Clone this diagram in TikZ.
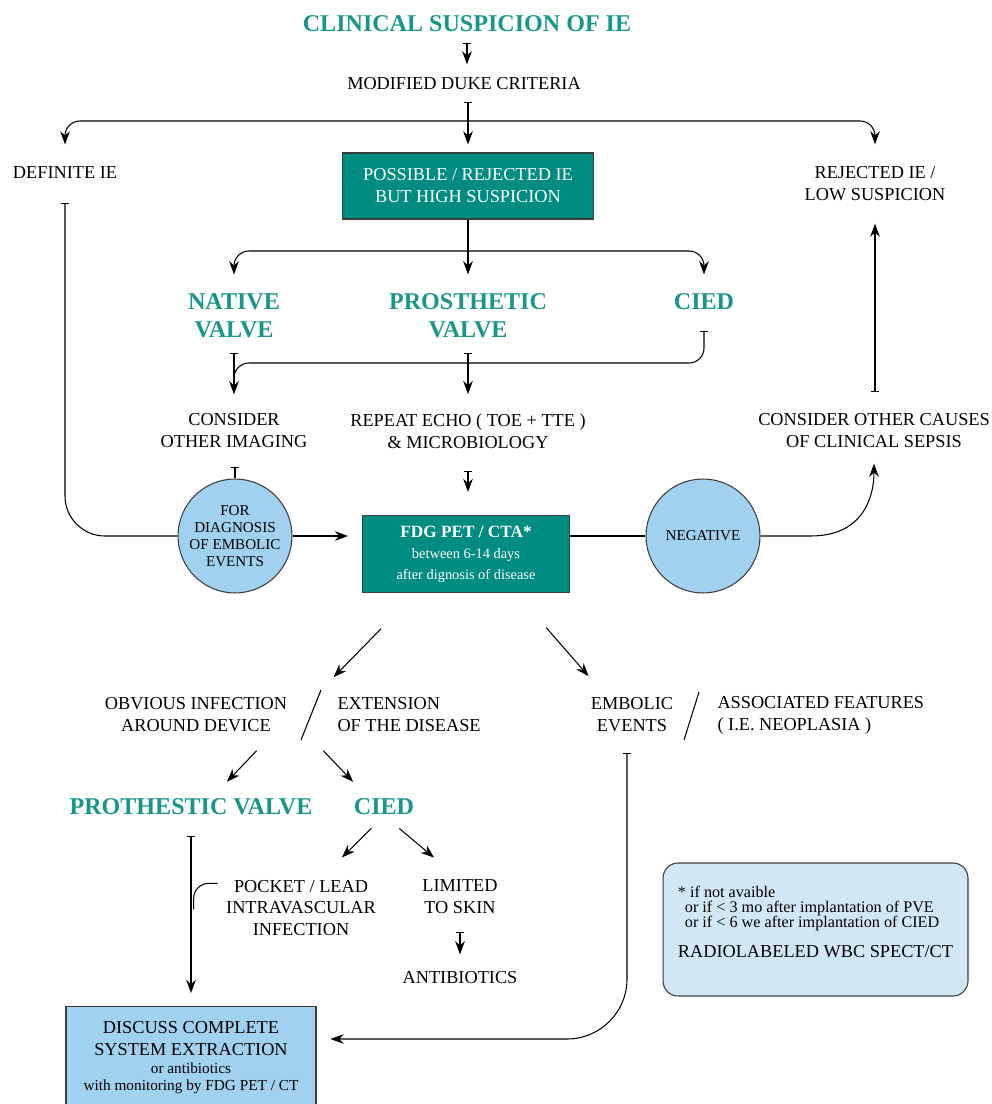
\documentclass[tikz,border=0pt]{standalone}
\usepackage{fontspec}
\setmainfont{Liberation Serif}
\usetikzlibrary{arrows.meta}
\definecolor{tealtxt}{RGB}{24,150,138}
\definecolor{boxteal}{RGB}{0,140,128}
\definecolor{skyblue}{RGB}{160,209,238}
\definecolor{paleblue}{RGB}{210,231,245}
\definecolor{edgegray}{RGB}{60,60,60}
\begin{document}
\begin{tikzpicture}[x=0.02cm, y=-0.02cm, line width=0.6pt,
    txt/.style={font=\fontsize{10.4}{12.5}\selectfont, align=center, inner sep=0pt},
    head/.style={font=\fontsize{13.7}{15.9}\selectfont\bfseries, text=tealtxt, align=center, inner sep=0pt},
    greenbox/.style={draw=edgegray, fill=boxteal, text=white, align=center, inner sep=0pt},
    bluebox/.style={draw=edgegray, fill=skyblue, align=center, font=\fontsize{10.4}{12.5}\selectfont},
    bubble/.style={circle, draw=edgegray, fill=skyblue, minimum size=2.28cm, inner sep=0pt, align=center, font=\fontsize{8.6}{9.7}\selectfont},
    notebox/.style={draw=edgegray, fill=paleblue, rounded corners=0.3cm, minimum width=6.1cm, minimum height=2.66cm, align=left, inner sep=0pt, font=\fontsize{9.2}{8.6}\selectfont},
    arr/.style={-{Stealth[length=7.5pt,width=5.5pt]}},
    tee/.style={{Bar[width=5pt]}-{Stealth[length=7.5pt,width=5.5pt]}},
    teeonly/.style={{Bar[width=5pt]}-}]
    \path[use as bounding box, fill=white] (0,0) rectangle (991,1104);
    \node[head] (title) at (467,24) {CLINICAL SUSPICION OF IE};
    \node[txt] (duke) at (464,84) {MODIFIED DUKE CRITERIA};
    \node[txt] (definite) at (65,173) {DEFINITE IE};
    \node[greenbox, minimum width=5.02cm, minimum height=1.32cm, font=\fontsize{10.4}{12.5}\selectfont] (possible) at (468,186) {POSSIBLE / REJECTED IE\\BUT HIGH SUSPICION};
    \node[txt] (rejected) at (875,184) {REJECTED IE /\\LOW SUSPICION};
    \node[head] (native) at (234,316) {NATIVE\\VALVE};
    \node[head] (prosth) at (468,316) {PROSTHETIC\\VALVE};
    \node[head] (cied) at (704,302) {CIED};
    \node[txt] (imaging) at (234,431) {CONSIDER\\OTHER IMAGING};
    \node[txt] (echo) at (468,431) {REPEAT ECHO ( TOE + TTE )\\\& MICROBIOLOGY};
    \node[txt] (causes) at (874,431) {CONSIDER OTHER CAUSES\\OF CLINICAL SEPSIS};
    \node[bubble] (embcircle) at (235,536) {FOR\\DIAGNOSIS\\OF EMBOLIC\\EVENTS};
    \node[greenbox, minimum width=4.14cm, minimum height=1.54cm, font=\fontsize{8.2}{12}\selectfont] (fdg) at (466,554) {{\fontsize{9.8}{12}\selectfont\bfseries FDG PET / CTA*}\\between 6-14 days\\after dignosis of disease};
    \node[bubble] (negative) at (703,536) {NEGATIVE};
    \node[txt] (obvious) at (196,715) {OBVIOUS INFECTION\\AROUND DEVICE};
    \node[txt, align=left, anchor=west] (extension) at (337,715) {EXTENSION\\OF THE DISEASE};
    \node[txt] (embolic) at (632,715) {EMBOLIC\\EVENTS};
    \node[txt, align=left, anchor=west] (assoc) at (717,715) {ASSOCIATED FEATURES\\( I.E. NEOPLASIA )};
    \coordinate (s1top) at (321,690);
    \coordinate (s1bot) at (301,740);
    \coordinate (s2top) at (699,692);
    \coordinate (s2bot) at (684,740);
    \node[head] (prothv) at (191,807) {PROTHESTIC VALVE};
    \node[head] (cied2) at (384,807) {CIED};
    \node[txt] (pocket) at (301,908) {POCKET / LEAD\\INTRAVASCULAR\\INFECTION};
    \node[txt] (limited) at (460,897) {LIMITED\\TO SKIN};
    \node[txt] (antibio) at (460,978) {ANTIBIOTICS};
    \node[bluebox, anchor=north, minimum width=5cm, inner xsep=0pt, inner ysep=0.3cm] (discuss) at (191,1006) {DISCUSS COMPLETE\\SYSTEM EXTRACTION\\[-2.5pt]{\fontsize{8.7}{9.5}\selectfont or antibiotics}\\[-2.5pt]{\fontsize{8.7}{9.5}\selectfont with monitoring by FDG PET / CT}\\[0.6cm]\mbox{}};
    \node[notebox] (note) at (815.5,929.5) {* if not avaible\\\hspace*{4pt}or if < 3 mo after implantation of PVE\\\hspace*{4pt}or if < 6 we after implantation of CIED\\[7.5pt]{\fontsize{10.4}{12}\selectfont RADIOLABELED WBC SPECT/CT}\\\mbox{}};
    \coordinate (split1) at (468,121);
    \coordinate (split2) at (468,251);
    \coordinate (merge) at (234,363);
    \draw[tee, shorten <=0.2cm, shorten >=0.26cm] (title.south) -- (title.south |- duke.north);
    \draw[tee, shorten <=0.22cm, shorten >=0.16cm] (possible.north |- duke.south) -- (possible.north);
    \draw[arr, rounded corners=0.3cm, shorten >=0.44cm] (split1) -| (definite.north);
    \draw[arr, rounded corners=0.3cm, shorten >=0.44cm] (split1) -| (rejected.north);
    \draw[arr, shorten >=0.38cm] (possible.south) -- (prosth.north);
    \draw[arr, rounded corners=0.3cm, shorten >=0.38cm] (split2) -| (native.north);
    \draw[arr, rounded corners=0.3cm, shorten >=0.38cm] (split2) -| (cied.north);
    \draw[tee, shorten <=0.28cm, shorten >=0.38cm] (native.south) -- (imaging.north);
    \draw[teeonly, rounded corners=0.3cm, shorten <=0.4cm] (cied.south) |- (merge) -- ++(0,22);
    \draw[tee, shorten <=0.28cm, shorten >=0.38cm] (prosth.south) -- (echo.north);
    \draw[tee, shorten <=0.42cm, shorten >=0.44cm] (rejected.south |- causes.north) -- (rejected.south);
    \draw[teeonly, shorten <=0.36cm] (embcircle.north |- imaging.south) -- (embcircle.north);
    \draw[tee, shorten <=0.44cm, shorten >=0.46cm] (echo.south) -- (echo.south |- fdg.north);
    \draw[teeonly, rounded corners=0.8cm, shorten <=0.46cm] (definite.south) |- (embcircle.west);
    \draw[arr, shorten >=0.28cm] (embcircle.east) -- (embcircle.east -| fdg.west);
    \draw (fdg.east |- negative.west) -- (negative.west);
    \draw[arr, shorten >=0.3cm] (negative.east) -- ++(50,0) .. controls +(55,0) and +(0,45) .. (causes.south);
    \draw[arr, shorten <=1cm, shorten >=0.36cm] ([xshift=-1cm]fdg.south) -- (s1top);
    \draw[arr, shorten <=0.92cm, shorten >=0.56cm] ([xshift=1cm]fdg.south) -- ([xshift=-0.5cm]embolic.north);
    \draw (s1top) -- (s1bot);
    \draw (s2top) -- (s2bot);
    \draw[arr, shorten <=0.5cm, shorten >=0.46cm] ([xshift=1.56cm]obvious.south) -- ([xshift=0.4cm]prothv.north);
    \draw[arr, shorten <=0.5cm, shorten >=0.46cm] ([xshift=2.2cm]obvious.south) -- ([xshift=-0.3cm]cied2.north);
    \draw[arr, shorten <=0.36cm, shorten >=0.62cm] (cied2.south) -- ([xshift=0.38cm]pocket.north);
    \draw[arr, shorten <=0.4cm, shorten >=0.68cm] (cied2.south) -- (limited.north);
    \draw[tee, shorten <=0.34cm, shorten >=0.34cm] (limited.south) -- (antibio.north);
    \draw[tee, shorten <=0.4cm, shorten >=0.26cm] (prothv.south) -- (prothv.south |- discuss.north);
    \draw[rounded corners=0.3cm] ([shift={(-0.16cm,-0.08cm)}]pocket.north west) -- ++(-24,0) -- ++(0,26);
    \draw[tee, rounded corners=1.2cm, shorten <=0.4cm, shorten >=0.28cm] ([xshift=-0.1cm]embolic.south) |- ([yshift=-0.66cm]discuss.north east);
\end{tikzpicture}
\end{document}
